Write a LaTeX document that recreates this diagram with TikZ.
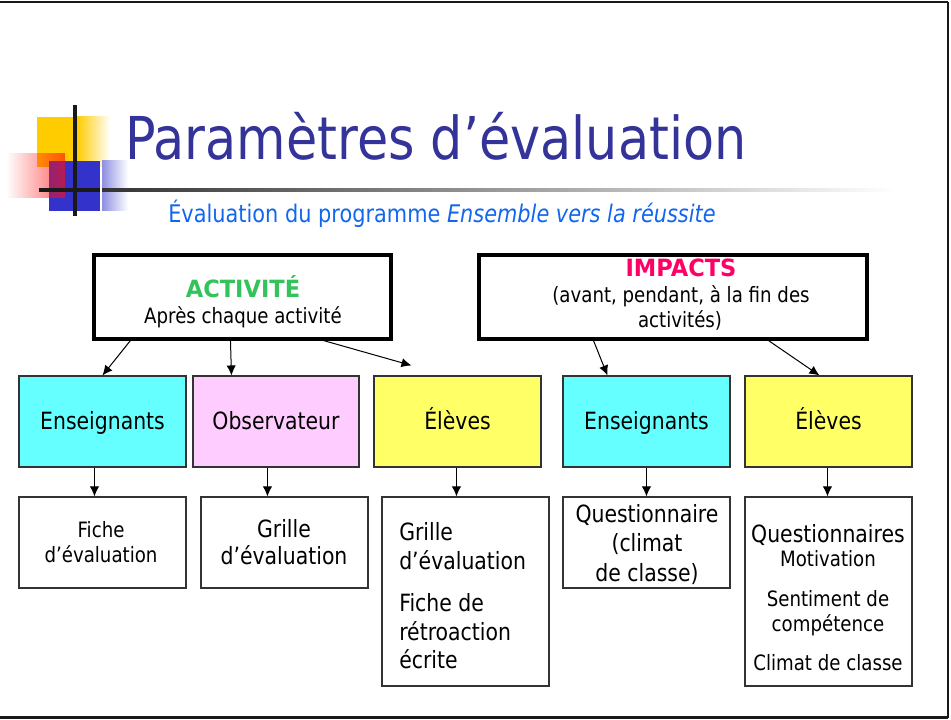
\documentclass[tikz,border=0pt]{standalone}
\usepackage{fontspec}
\setmainfont{DejaVu Sans}[FakeStretch=0.86]
\newfontfamily\hdrfont{DejaVu Sans}[FakeStretch=0.95]
\usetikzlibrary{fit,calc,arrows.meta,fadings}
\definecolor{titleblue}{HTML}{333399}
\definecolor{subblue}{HTML}{1166EE}
\definecolor{cyanbox}{HTML}{66FFFF}
\definecolor{pinkbox}{HTML}{FFCCFF}
\definecolor{yellowbox}{HTML}{FFFF66}
\definecolor{actgreen}{HTML}{33C35A}
\definecolor{imppink}{HTML}{FF0066}
\definecolor{logoyellow}{HTML}{FFCC00}
\definecolor{logoblue}{HTML}{3333CC}
\definecolor{logored}{HTML}{FF1010}
\tikzfading[name=fadeleft, left color=transparent!100, right color=transparent!35]
\newcommand\szbig{\fontsize{17.8}{21.5}\selectfont}
\newcommand\szsmall{\fontsize{15.85}{19}\selectfont}
\begin{document}
\begin{tikzpicture}[x=0.75pt,y=-0.75pt,
  bigbox/.style={draw=black, line width=2.3pt, inner sep=0pt},
  midbox/.style={draw=black!80, line width=0.8pt, inner sep=0pt},
  botbox/.style={draw=black!80, line width=0.8pt, fill=white, inner sep=0pt},
  txt/.style={anchor=base, inner sep=0pt, text=black},
  arr/.style={draw=black, line width=0.75pt, -{Latex[length=7.5pt,width=7pt]}}
]
\useasboundingbox (0,0) rectangle (951,720);
% logo
\fill[logoyellow] (37,117) rectangle (77,167);
\shade[left color=logoyellow, right color=white] (77,117) rectangle (110,167);
\fill[logoblue] (49,161) rectangle (100,211);
\shade[left color=logoblue!55, right color=white] (102,161) rectangle (128,211);
\fill[logored, path fading=fadeleft] (6,153) rectangle (65,198);
\draw[line width=3pt, black!90] (75,105) -- (75,216);
\draw[line width=3pt, black!90] (39,190) -- (100,190);
\shade[left color=black!80, right color=white] (102,188.5) rectangle (895,191.5);
% title
\node[anchor=base west, inner sep=0pt, text=titleblue, font=\fontsize{44.3}{50}\selectfont] (title) at (125,160) {Paramètres d’évaluation};
\node[anchor=base west, inner sep=0pt, text=subblue, font=\fontsize{18.2}{22}\selectfont] (sub) at (168,223) {Évaluation du programme \textit{Ensemble vers la réussite}};
% top boxes
\node[bigbox, fit={(94,255) (391,339)}] (act) {};
\node[bigbox, fit={(479,255) (867,339)}] (imp) {};
\node[txt, font=\szbig\hdrfont\bfseries, text=actgreen] (actT) at (243,298) {ACTIVITÉ};
\node[txt, font=\szsmall] (actS) at (243,324) {Après chaque activité};
\node[txt, font=\szbig\hdrfont\bfseries, text=imppink] (impT) at (681,277) {IMPACTS};
\node[txt, font=\szsmall] (impS1) at (681,303) {(avant, pendant, à la fin des};
\node[txt, font=\szsmall] (impS2) at (680,328) {activités)};
% middle boxes
\node[midbox, fill=cyanbox, fit={(19,376) (186,467)}] (ens1) {};
\node[midbox, fill=pinkbox, fit={(193,376) (359,467)}] (obs) {};
\node[midbox, fill=yellowbox, fit={(374,376) (541,467)}] (ele1) {};
\node[midbox, fill=cyanbox, fit={(563,376) (730,467)}] (ens2) {};
\node[midbox, fill=yellowbox, fit={(745,376) (912,467)}] (ele2) {};
\node[txt, font=\szbig] at (102.5,430) {Enseignants};
\node[txt, font=\szbig] at (276,430) {Observateur};
\node[txt, font=\szbig] at (457.5,430) {Élèves};
\node[txt, font=\szbig] at (646.5,430) {Enseignants};
\node[txt, font=\szbig] at (828.5,430) {Élèves};
% bottom boxes
\node[botbox, fit={(19,497) (186,588)}] (fiche) {};
\node[botbox, fit={(201,497) (368,588)}] (grille) {};
\node[botbox, fit={(382,497) (549,686)}] (retro) {};
\node[botbox, fit={(563,497) (730,588)}] (quest) {};
\node[botbox, fit={(745,497) (912,686)}] (quests) {};
\node[txt, font=\szsmall] at (101,538) {Fiche};
\node[txt, font=\szsmall] at (101,563) {d’évaluation};
\node[txt, font=\szbig] at (284,538) {Grille};
\node[txt, font=\szbig] at (284,565) {d’évaluation};
\node[txt, anchor=base west, font=\szbig] at (399,541) {Grille};
\node[txt, anchor=base west, font=\szbig] at (399,570) {d’évaluation};
\node[txt, anchor=base west, font=\szbig] at (399,612) {Fiche de};
\node[txt, anchor=base west, font=\szbig] at (399,641) {rétroaction};
\node[txt, anchor=base west, font=\szbig] at (399,668) {écrite};
\node[txt, font=\szbig] at (647,523) {Questionnaire};
\node[txt, font=\szbig] at (647,552) {(climat};
\node[txt, font=\szbig] at (647,581) {de classe)};
\node[txt, font=\szbig] at (828,542) {Questionnaires};
\node[txt, font=\szsmall] at (828,567) {Motivation};
\node[txt, font=\szsmall] at (828,607) {Sentiment de};
\node[txt, font=\szsmall] at (828,632) {compétence};
\node[txt, font=\szsmall] at (828,670) {Climat de classe};
% arrows
\draw[arr] ($(act.south west)+(38,0)$) -- ($(ens1.north west)+(84,0)$);
\draw[arr] ($(act.south west)+(138,0)$) -- ($(obs.north west)+(39,0)$);
\draw[arr] ($(act.south west)+(231,0)$) -- ($(ele1.north west)+(38,-10)$);
\draw[arr] ($(imp.south west)+(116,0)$) -- ($(ens2.north west)+(45,0)$);
\draw[arr] ($(imp.south west)+(291,0)$) -- ($(ele2.north west)+(75,0)$);
\draw[arr] ($(ens1.south west)+(76,0)$) -- ($(fiche.north west)+(76,0)$);
\draw[arr] ($(obs.south west)+(75,0)$) -- ($(grille.north west)+(67,0)$);
\draw[arr] ($(ele1.south west)+(83,0)$) -- ($(retro.north west)+(75,0)$);
\draw[arr] ($(ens2.south west)+(84,0)$) -- ($(quest.north west)+(84,0)$);
\draw[arr] ($(ele2.south west)+(83,0)$) -- ($(quests.north west)+(83,0)$);
% slide frame
\draw[line width=2.2pt, black!90] (0,2) -- (948,2);
\draw[line width=1.6pt, black!90] (948,2) -- (948,717.5);
\draw[line width=2.2pt, black!90] (0,717.5) -- (948,717.5);
\end{tikzpicture}
\end{document}
